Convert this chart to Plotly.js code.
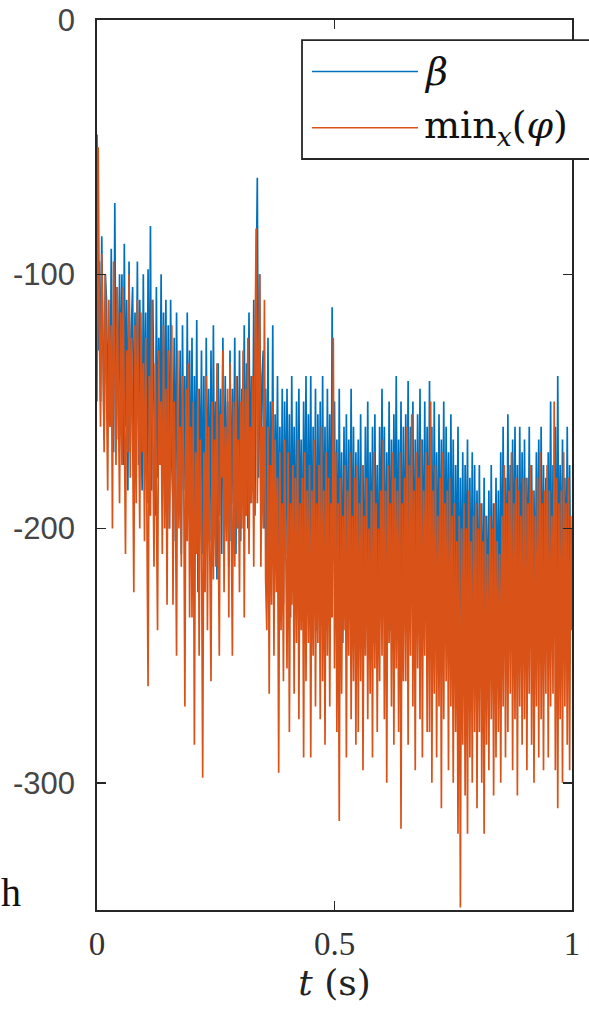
<!DOCTYPE html>
<html>
<head>
<meta charset="utf-8">
<script src="https://cdn.plot.ly/plotly-3.0.1.min.js"></script>
<style>html,body{margin:0;padding:0;background:#fff;}#chart{width:589px;height:1020px;}</style>
</head>
<body>
<div id="chart"></div>
<script>
// time samples, seconds
const tValues = [
  0.0000,0.0025,0.0050,0.0075,0.0100,0.0125,0.0150,0.0175,0.0200,0.0225,0.0250,0.0275,0.0300,0.0325,0.0350,0.0375,0.0400,0.0425,0.0450,0.0475,
  0.0500,0.0525,0.0550,0.0575,0.0600,0.0625,0.0650,0.0675,0.0700,0.0725,0.0750,0.0775,0.0800,0.0825,0.0850,0.0875,0.0900,0.0925,0.0950,0.0975,
  0.1000,0.1025,0.1050,0.1075,0.1100,0.1125,0.1150,0.1175,0.1200,0.1225,0.1250,0.1275,0.1300,0.1325,0.1350,0.1375,0.1400,0.1425,0.1450,0.1475,
  0.1500,0.1525,0.1550,0.1575,0.1600,0.1625,0.1650,0.1675,0.1700,0.1725,0.1750,0.1775,0.1800,0.1825,0.1850,0.1875,0.1900,0.1925,0.1950,0.1975,
  0.2000,0.2025,0.2050,0.2075,0.2100,0.2125,0.2150,0.2175,0.2200,0.2225,0.2250,0.2275,0.2300,0.2325,0.2350,0.2375,0.2400,0.2425,0.2450,0.2475,
  0.2500,0.2525,0.2550,0.2575,0.2600,0.2625,0.2650,0.2675,0.2700,0.2725,0.2750,0.2775,0.2800,0.2825,0.2850,0.2875,0.2900,0.2925,0.2950,0.2975,
  0.3000,0.3025,0.3050,0.3075,0.3100,0.3125,0.3150,0.3175,0.3200,0.3225,0.3250,0.3275,0.3300,0.3325,0.3350,0.3375,0.3400,0.3425,0.3450,0.3475,
  0.3500,0.3525,0.3550,0.3575,0.3600,0.3625,0.3650,0.3675,0.3700,0.3725,0.3750,0.3775,0.3800,0.3825,0.3850,0.3875,0.3900,0.3925,0.3950,0.3975,
  0.4000,0.4025,0.4050,0.4075,0.4100,0.4125,0.4150,0.4175,0.4200,0.4225,0.4250,0.4275,0.4300,0.4325,0.4350,0.4375,0.4400,0.4425,0.4450,0.4475,
  0.4500,0.4525,0.4550,0.4575,0.4600,0.4625,0.4650,0.4675,0.4700,0.4725,0.4750,0.4775,0.4800,0.4825,0.4850,0.4875,0.4900,0.4925,0.4950,0.4975,
  0.5000,0.5025,0.5050,0.5075,0.5100,0.5125,0.5150,0.5175,0.5200,0.5225,0.5250,0.5275,0.5300,0.5325,0.5350,0.5375,0.5400,0.5425,0.5450,0.5475,
  0.5500,0.5525,0.5550,0.5575,0.5600,0.5625,0.5650,0.5675,0.5700,0.5725,0.5750,0.5775,0.5800,0.5825,0.5850,0.5875,0.5900,0.5925,0.5950,0.5975,
  0.6000,0.6025,0.6050,0.6075,0.6100,0.6125,0.6150,0.6175,0.6200,0.6225,0.6250,0.6275,0.6300,0.6325,0.6350,0.6375,0.6400,0.6425,0.6450,0.6475,
  0.6500,0.6525,0.6550,0.6575,0.6600,0.6625,0.6650,0.6675,0.6700,0.6725,0.6750,0.6775,0.6800,0.6825,0.6850,0.6875,0.6900,0.6925,0.6950,0.6975,
  0.7000,0.7025,0.7050,0.7075,0.7100,0.7125,0.7150,0.7175,0.7200,0.7225,0.7250,0.7275,0.7300,0.7325,0.7350,0.7375,0.7400,0.7425,0.7450,0.7475,
  0.7500,0.7525,0.7550,0.7575,0.7600,0.7625,0.7650,0.7675,0.7700,0.7725,0.7750,0.7775,0.7800,0.7825,0.7850,0.7875,0.7900,0.7925,0.7950,0.7975,
  0.8000,0.8025,0.8050,0.8075,0.8100,0.8125,0.8150,0.8175,0.8200,0.8225,0.8250,0.8275,0.8300,0.8325,0.8350,0.8375,0.8400,0.8425,0.8450,0.8475,
  0.8500,0.8525,0.8550,0.8575,0.8600,0.8625,0.8650,0.8675,0.8700,0.8725,0.8750,0.8775,0.8800,0.8825,0.8850,0.8875,0.8900,0.8925,0.8950,0.8975,
  0.9000,0.9025,0.9050,0.9075,0.9100,0.9125,0.9150,0.9175,0.9200,0.9225,0.9250,0.9275,0.9300,0.9325,0.9350,0.9375,0.9400,0.9425,0.9450,0.9475,
  0.9500,0.9525,0.9550,0.9575,0.9600,0.9625,0.9650,0.9675,0.9700,0.9725,0.9750,0.9775,0.9800,0.9825,0.9850,0.9875,0.9900,0.9925,0.9950,0.9975,
  1.0000
];

// beta
const betaValues = [
  -45,-130,-95,-150,-85,-140,-165,-100,-110,-150,-125,-160,-90,-145,-170,-72,-155,-105,-165,-100,
  -150,-100,-175,-88,-160,-110,-185,-95,-170,-120,-105,-180,-115,-160,-95,-175,-110,-150,-185,-100,
  -170,-115,-190,-98,-175,-81,-185,-110,-160,-195,-105,-180,-125,-170,-100,-190,-115,-175,-110,-185,
  -120,-200,-110,-175,-190,-125,-205,-115,-180,-195,-130,-210,-120,-185,-140,-200,-115,-190,-130,-205,
  -125,-215,-140,-200,-118,-225,-145,-190,-130,-210,-140,-220,-125,-195,-145,-205,-130,-215,-120,-200,
  -150,-220,-135,-195,-145,-210,-125,-200,-140,-195,-150,-215,-130,-205,-145,-190,-125,-210,-140,-200,
  -130,-205,-145,-185,-120,-195,-135,-200,-115,-190,-140,-185,-110,-195,-108,-62,-180,-100,-195,-140,
  -130,-200,-145,-215,-125,-225,-150,-210,-120,-230,-155,-200,-140,-220,-160,-215,-145,-230,-150,-210,
  -145,-220,-155,-235,-140,-215,-160,-230,-150,-225,-145,-210,-165,-235,-150,-220,-140,-230,-155,-215,
  -140,-235,-160,-220,-145,-240,-155,-215,-150,-230,-140,-225,-160,-240,-145,-220,-155,-235,-113,-210,
  -150,-225,-165,-240,-145,-230,-170,-245,-160,-220,-155,-235,-165,-225,-145,-240,-160,-230,-170,-220,
  -165,-240,-155,-225,-175,-245,-160,-230,-150,-240,-170,-225,-160,-245,-155,-230,-175,-240,-160,-225,
  -145,-220,-160,-235,-170,-225,-150,-240,-165,-230,-155,-215,-140,-235,-165,-225,-150,-240,-160,-230,
  -155,-220,-142,-235,-160,-215,-150,-240,-165,-225,-155,-230,-145,-220,-165,-235,-150,-225,-160,-240,
  -142,-230,-160,-245,-150,-225,-170,-240,-155,-235,-165,-230,-150,-245,-160,-225,-170,-240,-155,-235,
  -165,-250,-175,-235,-160,-255,-180,-240,-170,-245,-175,-230,-165,-250,-180,-240,-170,-255,-175,-245,
  -185,-250,-175,-260,-190,-245,-180,-255,-195,-240,-185,-250,-175,-245,-190,-255,-180,-240,-185,-250,
  -170,-235,-160,-250,-180,-240,-155,-230,-175,-245,-165,-235,-160,-225,-175,-245,-160,-230,-170,-240,
  -165,-240,-180,-230,-160,-245,-175,-235,-185,-240,-170,-225,-165,-245,-160,-235,-175,-240,-180,-230,
  -170,-230,-150,-245,-175,-225,-160,-250,-140,-235,-175,-225,-165,-240,-180,-230,-160,-245,-175,-235,
  -200
];

// min_x(phi)
const minPhiValues = [
  -150,-50,-120,-160,-92,-140,-170,-100,-135,-185,-110,-160,-120,-200,-95,-150,-175,-105,-140,-190,
  -115,-175,-105,-150,-210,-130,-170,-100,-180,-125,-160,-225,-120,-190,-110,-150,-200,-115,-170,-135,
  -205,-125,-180,-262,-140,-195,-110,-165,-215,-135,-185,-240,-130,-175,-150,-210,-120,-200,-145,-230,
  -130,-200,-160,-120,-230,-150,-185,-250,-130,-200,-160,-215,-140,-175,-270,-145,-205,-135,-235,-160,
  -235,-150,-285,-170,-210,-145,-250,-165,-200,-298,-170,-225,-140,-240,-160,-205,-260,-150,-220,-165,
  -215,-135,-195,-250,-155,-180,-130,-225,-160,-205,-145,-235,-135,-190,-250,-150,-215,-140,-200,-165,
  -225,-150,-200,-130,-235,-145,-195,-125,-210,-160,-190,-140,-215,-135,-82,-190,-150,-100,-215,-160,
  -200,-110,-220,-240,-160,-265,-175,-230,-150,-250,-165,-225,-180,-296,-170,-240,-190,-260,-165,-230,
  -255,-170,-280,-190,-230,-175,-265,-180,-245,-165,-275,-190,-240,-180,-290,-170,-260,-185,-245,-175,
  -290,-185,-250,-165,-270,-190,-245,-175,-275,-160,-260,-185,-285,-170,-250,-180,-270,-190,-235,-125,
  -255,-170,-280,-190,-315,-180,-265,-195,-240,-175,-290,-185,-250,-170,-275,-195,-260,-180,-285,-175,
  -280,-190,-260,-175,-295,-195,-250,-180,-275,-200,-265,-185,-290,-170,-255,-190,-280,-200,-260,-185,
  -250,-165,-275,-185,-300,-175,-245,-190,-270,-170,-285,-180,-255,-185,-280,-170,-318,-190,-260,-180,
  -260,-160,-285,-175,-250,-155,-270,-185,-295,-170,-255,-180,-275,-165,-290,-185,-250,-170,-280,-175,
  -280,-150,-300,-185,-265,-175,-290,-195,-270,-180,-310,-170,-275,-190,-260,-185,-295,-180,-270,-195,
  -300,-190,-280,-205,-320,-195,-349,-200,-285,-190,-305,-200,-320,-185,-290,-205,-300,-195,-280,-190,
  -310,-200,-280,-190,-300,-205,-320,-195,-285,-210,-295,-195,-275,-200,-305,-190,-290,-205,-280,-210,
  -300,-195,-270,-175,-290,-190,-280,-185,-265,-170,-295,-190,-275,-180,-305,-185,-270,-195,-285,-180,
  -275,-180,-295,-190,-265,-175,-285,-185,-300,-195,-270,-180,-290,-170,-275,-190,-295,-185,-265,-175,
  -290,-185,-270,-195,-265,-150,-295,-180,-310,-190,-275,-185,-300,-170,-270,-190,-285,-180,-295,-195,
  -240
];

const seriesNames = ['β', 'min<sub><i>x</i></sub>(<i>φ</i>)'];
const xTickVals = [0, 0.5, 1];
const xTickText = ['0', '0.5', '1'];
const yTickVals = [0, -100, -200, -300];
const yTickText = ['0', '-100', '-200', '-300'];

const blue = '#0072BD';
const orange = '#D95319';
const axisColor = '#262626';

const traces = [
  {x: tValues, y: betaValues, type: 'scatter', mode: 'lines', name: seriesNames[0],
   line: {color: blue, width: 1.7}, showlegend: false, hoverinfo: 'skip'},
  {x: tValues, y: minPhiValues, type: 'scatter', mode: 'lines', name: seriesNames[1],
   line: {color: orange, width: 1.7}, showlegend: false, hoverinfo: 'skip'}
];

// legend box geometry (paper coordinates)
const L = {x0: 0.4316, x1: 1.2, y0: 0.8438, y1: 0.9775};
const legendRows = [0.942, 0.879];
const serif = 'DejaVu Serif, Liberation Serif, serif';

const layout = {
  width: 589, height: 1020,
  margin: {l: 97, r: 17, t: 20, b: 110, pad: 0},
  paper_bgcolor: '#ffffff', plot_bgcolor: '#ffffff',
  showlegend: false,
  xaxis: {
    range: [0, 1], tickvals: xTickVals, ticktext: xTickText,
    ticks: 'inside', ticklen: 9, tickwidth: 1.5, tickcolor: axisColor,
    showline: true, linecolor: axisColor, linewidth: 1.8, mirror: 'ticks',
    showgrid: false, zeroline: false,
    tickfont: {family: 'Liberation Serif, serif', size: 33, color: '#333333'},
    ticklabelstandoff: 4,
    title: {text: '<i>t</i> (s)', font: {family: serif, size: 36, color: '#222222'}, standoff: 6}
  },
  yaxis: {
    range: [-350, 0], tickvals: yTickVals, ticktext: yTickText,
    ticks: 'inside', ticklen: 9, tickwidth: 1.5, tickcolor: axisColor,
    showline: true, linecolor: axisColor, linewidth: 1.8, mirror: 'ticks',
    showgrid: false, zeroline: false,
    tickfont: {family: 'Liberation Sans, Arial, sans-serif', size: 31, color: '#454545'},
    ticklabelstandoff: 14
  },
  shapes: [
    {type: 'rect', xref: 'paper', yref: 'paper', x0: L.x0, x1: L.x1, y0: L.y0, y1: L.y1,
     line: {color: axisColor, width: 1.8}, fillcolor: '#ffffff', layer: 'above'},
    {type: 'line', xref: 'paper', yref: 'paper', x0: 0.4526, x1: 0.6758, y0: legendRows[0], y1: legendRows[0],
     line: {color: blue, width: 1.5}, layer: 'above'},
    {type: 'line', xref: 'paper', yref: 'paper', x0: 0.4526, x1: 0.6758, y0: legendRows[1], y1: legendRows[1],
     line: {color: orange, width: 1.5}, layer: 'above'}
  ],
  annotations: [
    {xref: 'paper', yref: 'paper', x: 0.684, y: legendRows[0], xanchor: 'left', yanchor: 'middle',
     text: '<i>' + seriesNames[0] + '</i>', showarrow: false,
     font: {family: serif, size: 38, color: '#111111'}},
    {xref: 'paper', yref: 'paper', x: 0.684, y: legendRows[1], xanchor: 'left', yanchor: 'middle',
     text: seriesNames[1], showarrow: false,
     font: {family: serif, size: 38, color: '#111111'}},
    {xref: 'paper', yref: 'paper', x: -0.206, y: 0.02, xanchor: 'left', yanchor: 'middle',
     text: 'h', showarrow: false,
     font: {family: 'Liberation Serif, serif', size: 40, color: '#111111'}}
  ]
};

Plotly.newPlot('chart', traces, layout, {staticPlot: true, displayModeBar: false});
</script>
</body>
</html>
